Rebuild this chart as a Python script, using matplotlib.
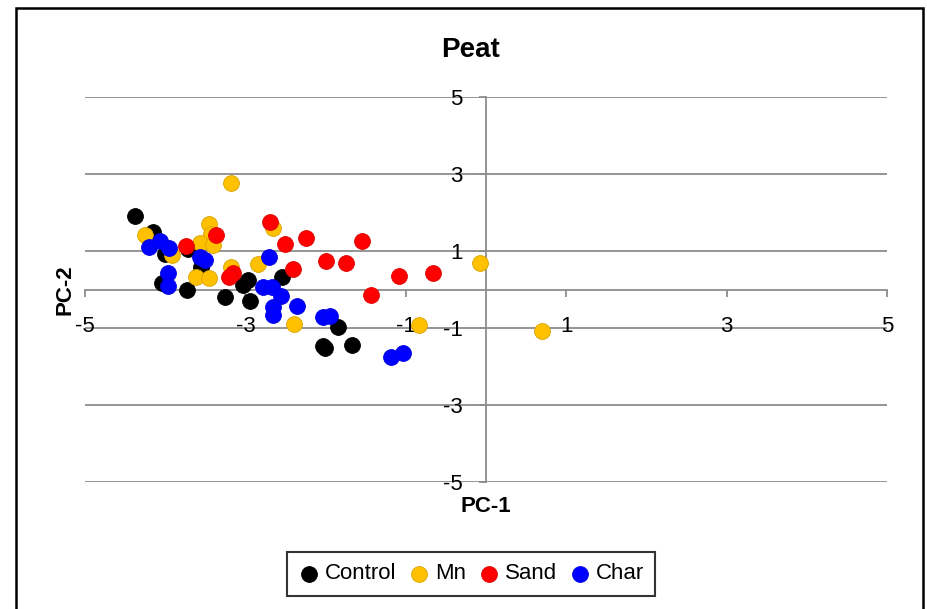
import numpy as np
import matplotlib
matplotlib.use('Agg')
import matplotlib.pyplot as plt
from matplotlib.patches import Rectangle

plt.rcParams['font.family'] = ['Liberation Sans', 'DejaVu Sans']

# PCA scores (PC-1, PC-2)
control_x = [-4.38, -4.15, -4.00, -3.71, -3.55, -3.73, -4.04, -3.26, -2.97, -3.03,
             -2.94, -2.54, -1.84, -2.03, -2.01, -1.67]
control_y = [1.90, 1.50, 0.91, 1.04, 0.58, 0.00, 0.18, -0.20, 0.25, 0.12,
             -0.29, 0.33, -0.98, -1.47, -1.53, -1.44]

mn_x = [-3.18, -4.25, -3.92, -3.45, -3.43, -3.57, -3.40, -3.62, -3.45, -3.18,
        -2.84, -2.65, -2.39, -0.84, 0.70, -0.08]
mn_y = [2.76, 1.42, 0.90, 1.69, 1.45, 1.20, 1.16, 0.32, 0.29, 0.59,
        0.66, 1.59, -0.90, -0.92, -1.07, 0.68]

sand_x = [-3.74, -3.37, -3.16, -3.21, -2.69, -2.50, -2.24, -2.41, -1.55, -1.99,
          -1.75, -1.09, -1.43, -0.66]
sand_y = [1.13, 1.42, 0.42, 0.32, 1.76, 1.18, 1.35, 0.52, 1.26, 0.75,
          0.68, 0.35, -0.13, 0.42]

char_x = [-4.20, -4.06, -3.95, -3.57, -3.50, -3.97, -3.97, -2.71, -2.78, -2.67,
          -2.55, -2.65, -2.66, -2.36, -2.03, -1.95, -1.19, -1.03]
char_y = [1.11, 1.26, 1.07, 0.85, 0.77, 0.42, 0.09, 0.85, 0.07, 0.07,
          -0.17, -0.45, -0.66, -0.42, -0.71, -0.69, -1.74, -1.64]

ticks = [-5, -3, -1, 1, 3, 5]

fig = plt.figure(figsize=(9.28, 6.09), dpi=100)
ax = fig.add_axes([0.0916, 0.2085, 0.8642, 0.6322])

grey = '#8c8c8c'
for t in ticks:
    ax.axhline(t, color=grey, lw=1.3, zorder=1)

series = [
    ('Control', control_x, control_y, '#000000', '#000000'),
    ('Mn', mn_x, mn_y, '#FFC000', '#d9a300'),
    ('Sand', sand_x, sand_y, '#FF0000', '#e00000'),
    ('Char', char_x, char_y, '#0000FF', '#0000e0'),
]
for name, xs, ys, c, ec in series:
    ax.scatter(xs, ys, s=130, color=c, edgecolors=ec, linewidths=0.6,
               label=name, zorder=3)

ax.set_xlim(-5, 5)
ax.set_ylim(-5, 5)
ax.spines['left'].set_position(('data', 0))
ax.spines['bottom'].set_position(('data', 0))
ax.spines['top'].set_visible(False)
ax.spines['right'].set_visible(False)
for s in ('left', 'bottom'):
    ax.spines[s].set_color(grey)
    ax.spines[s].set_linewidth(1.3)
ax.set_xticks(ticks)
ax.set_yticks(ticks)
ax.set_xticklabels([str(t) for t in ticks])
ax.set_yticklabels([str(t) for t in ticks])
ax.tick_params(axis='x', direction='out', length=5, width=1.3, color=grey,
               labelsize=16, pad=14)
ax.tick_params(axis='y', direction='out', length=5, width=1.3, color=grey,
               labelsize=16, pad=12)
ax.patch.set_visible(False)

fig.text(0.5065, 0.918, 'Peat', ha='center', va='center', fontsize=20, fontweight='bold')
fig.text(0.523, 0.169, 'PC-1', ha='center', va='center', fontsize=16, fontweight='bold')
fig.text(0.070, 0.524, 'PC-2', ha='center', va='center', fontsize=16, fontweight='bold',
         rotation=90)

leg = fig.legend(loc='center', bbox_to_anchor=(0.5075, 0.0575), ncol=4, fontsize=16,
                 frameon=True, fancybox=False, handletextpad=0.2, columnspacing=0.55,
                 markerscale=1.0, borderpad=0.5, handlelength=1.0)
leg.get_frame().set_edgecolor('black')
leg.get_frame().set_linewidth(1.5)

fig.patches.append(Rectangle((0.0172, -0.05), 0.9774, 1.0369, transform=fig.transFigure,
                             fill=False, edgecolor='black', lw=1.8, zorder=10))

fig.savefig('out.png', dpi=100)
